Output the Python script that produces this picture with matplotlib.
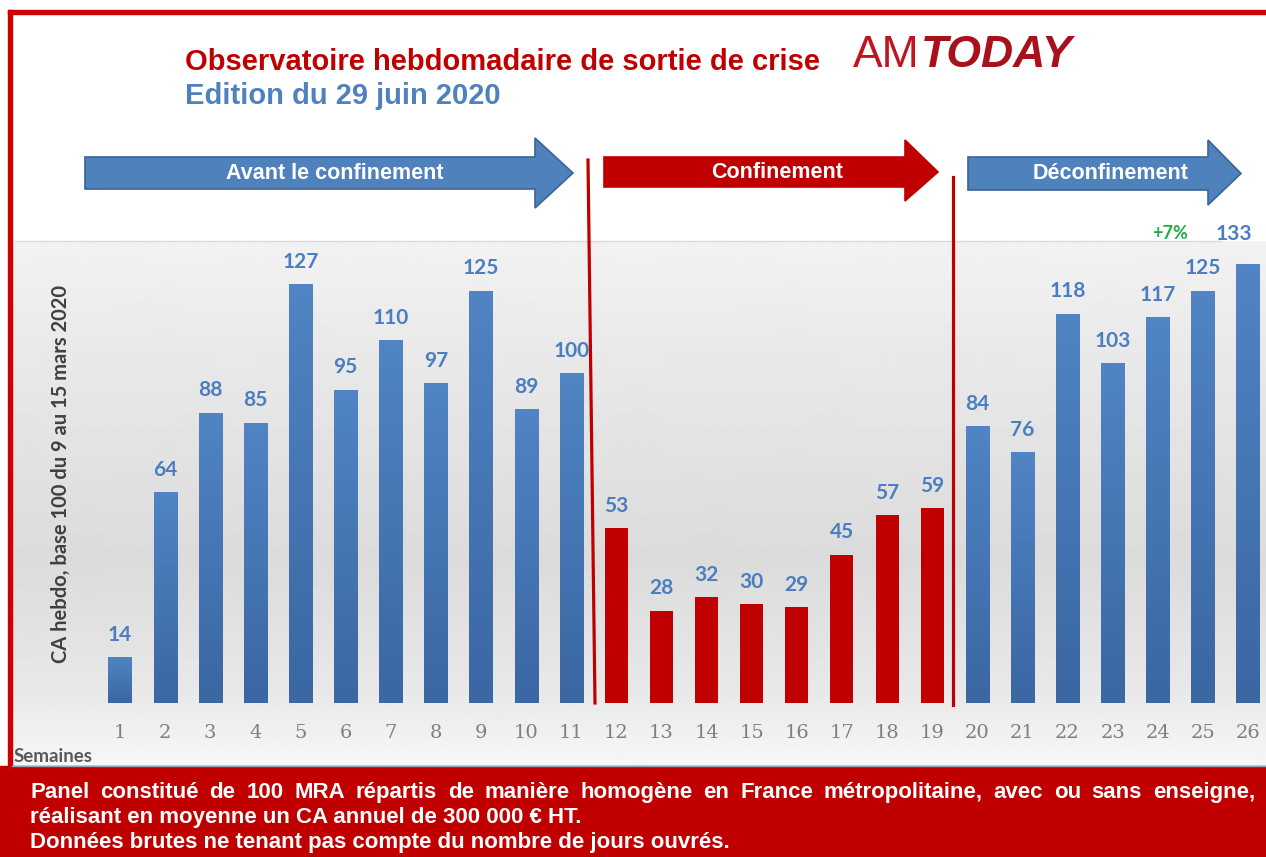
import numpy as np
import matplotlib
matplotlib.use("Agg")
import matplotlib.pyplot as plt
from matplotlib.patches import Rectangle, Polygon

# data
weeks = list(range(1, 27))
values = [14, 64, 88, 85, 127, 95, 110, 97, 125, 89, 100,
          53, 28, 32, 30, 29, 45, 57, 59,
          84, 76, 118, 103, 117, 125, 133]
confinement_weeks = range(12, 20)
phases = ["Avant le confinement", "Confinement", "Déconfinement"]
title = "Observatoire hebdomadaire de sortie de crise"
subtitle = "Edition du 29 juin 2020"
ylabel = "CA hebdo, base 100 du 9 au 15 mars 2020"
footer = ["Panel constitué de 100 MRA répartis de manière homogène en France métropolitaine, avec ou sans enseigne,",
          "réalisant en moyenne un CA annuel de 300 000 € HT.",
          "Données brutes ne tenant pas compte du nombre de jours ouvrés."]

RED = "#c00000"
BLUE = "#4f81bd"
W, H = 1266, 857

fig = plt.figure(figsize=(W / 100, H / 100), dpi=100)
fig.patch.set_facecolor("white")

#   background axes in pixel coordinates
bg = fig.add_axes([0, 0, 1, 1], zorder=0)
bg.set_xlim(0, W)
bg.set_ylim(H, 0)
bg.axis("off")

# chart area gradient
ys = np.array([241, 330, 560, 690, 766])
gs = np.array([0.95, 0.92, 0.86, 0.91, 0.97])
grad = np.interp(np.arange(241, 766), ys, gs)
img = np.repeat(grad[:, None], 2, axis=1)
bg.imshow(img, cmap="gray", vmin=0, vmax=1, extent=[12, W, 766, 241],
          aspect="auto", interpolation="bilinear", zorder=0)
bg.plot([15, 1220], [241, 241], color="#d9d9d9", lw=1, zorder=1)

# frame and footer
bg.add_patch(Rectangle((0, 766), W, H - 766, color=RED, zorder=2))
bg.plot([12, W], [766, 766], color="#8ea3c4", lw=1, zorder=3)
bg.add_patch(Rectangle((8, 10), W - 8, 4, color="#d00000", zorder=2))
bg.add_patch(Rectangle((8, 10), 4, 760, color="#d00000", zorder=2))

# titles
bg.text(185, 62, title, color=RED, fontsize=21, fontweight="bold",
        family="Liberation Sans", va="center", ha="left")
bg.text(185, 96, subtitle, color=BLUE, fontsize=21, fontweight="bold",
        family="Liberation Sans", va="center", ha="left")
t_am = bg.text(853, 55, "AM", color="#c0141e", fontsize=32,
               family="Liberation Sans", va="center", ha="left")
fig.canvas.draw()
r = fig.canvas.get_renderer()
bb = t_am.get_window_extent(r)
bg.text(bb.x1 + 1, 55, "TODAY", color="#a8101c", fontsize=32, fontweight="bold",
        style="italic", family="Liberation Sans", va="center", ha="left")

# phase arrows
arrows = [(85, 535, 573, 157, 189, 138, 208, BLUE, "#3a6597"),
          (604, 905, 938, 157, 187, 140, 201, RED, RED),
          (968, 1208, 1241, 157, 190, 140, 205, BLUE, "#3a6597")]
for (x0, xh, xt, b0, b1, h0, h1, fc, ec), lab in zip(arrows, phases):
    pts = [(x0, b0), (xh, b0), (xh, h0), (xt, (b0 + b1) / 2), (xh, h1),
           (xh, b1), (x0, b1)]
    bg.add_patch(Polygon(pts, closed=True, facecolor=fc, edgecolor=ec, lw=1.2, zorder=3))
    bg.text((x0 + xt) / 2 + 6, (b0 + b1) / 2, lab, color="white", fontsize=15.5,
            fontweight="bold", family="Liberation Sans", ha="center", va="center", zorder=4)

# red separators
bg.plot([588, 595], [160, 703], color=RED, lw=2.3, zorder=3)
bg.plot([953, 953], [177, 705], color=RED, lw=2.3, zorder=3)

#   bar axes
sp = 45.12
x_lo = 1 + (15 - 120) / sp
x_hi = 1 + (W - 120) / sp
ax = fig.add_axes([15 / W, 1 - 703 / H, (W - 15) / W, 462 / H], zorder=1)
ax.set_xlim(x_lo, x_hi)
ax.set_ylim(0, 140)
ax.patch.set_alpha(0)
for s in ax.spines.values():
    s.set_visible(False)

shade = np.linspace(0, 1, 64)[:, None]
cm = matplotlib.colors.LinearSegmentedColormap.from_list("b", ["#3b67a3", "#5084c4"])
for w, v in zip(weeks, values):
    if w in confinement_weeks:
        ax.bar(w, v, width=0.51, color=RED, zorder=2)
    else:
        bar = ax.bar(w, v, width=0.51, color=BLUE, zorder=2)[0]
        im = ax.imshow(shade, cmap=cm, extent=[w - 0.255, w + 0.255, 0, v],
                       aspect="auto", origin="lower", zorder=3)
        im.set_clip_path(bar)
    off = (-10, 22) if w == 26 else (0, 16)
    ax.annotate(str(v), (w, v), xytext=off, textcoords="offset points",
                ha="center", va="center", color="#4a7ec0", fontsize=15,
                fontweight="bold", family="Lato", zorder=4)

ax.annotate("+7%", (24.27, 133), xytext=(0, 22), textcoords="offset points",
            ha="center", va="center", color="#1fae46", fontsize=13,
            fontweight="bold", family="Lato")

ax.set_xticks(weeks)
ax.set_xticklabels([str(w) for w in weeks], family="DejaVu Serif",
                   fontsize=14, color="#7f7f7f")
ax.tick_params(axis="x", length=0, pad=15)
ax.set_yticks([])

bg.text(61, 474, ylabel, rotation=90, color="#404040", fontsize=14.5,
        fontweight="bold", family="Lato", ha="center", va="center", zorder=4)
bg.text(14, 757, "Semaines", color="#595959", fontsize=13.5, fontweight="bold",
        family="Lato", ha="left", va="center", zorder=4)

#   footer, first line justified
fy = [798, 823, 848]
fsz = 16
words = footer[0].split(" ")
objs = [bg.text(0, fy[0], wd, color="white", fontsize=fsz, fontweight="bold",
                family="Liberation Sans", ha="left", va="baseline", zorder=4)
        for wd in words]
fig.canvas.draw()
widths = [o.get_window_extent(r).width for o in objs]
gap = (1255 - 30 - sum(widths)) / (len(words) - 1)
x = 30
for o, wd in zip(objs, widths):
    o.set_x(x)
    x += wd + gap
for line, y in zip(footer[1:], fy[1:]):
    bg.text(30, y, line, color="white", fontsize=fsz, fontweight="bold",
            family="Liberation Sans", ha="left", va="baseline", zorder=4)

fig.savefig("out.png", dpi=100)
